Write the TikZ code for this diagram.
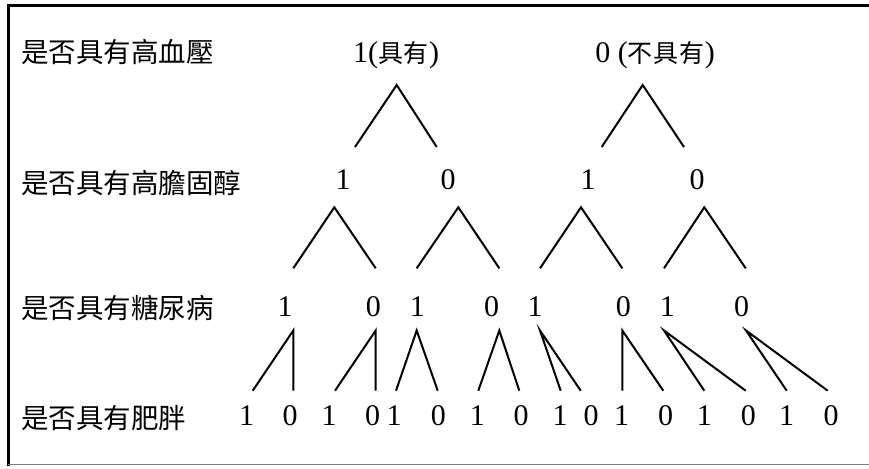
\documentclass[tikz,border=0pt]{standalone}
\usepackage{fontspec}
\setmainfont{Liberation Serif}
\newfontfamily\cjk{Noto Sans CJK TC}
\newfontfamily\cjkval{Noto Sans CJK TC}[LetterSpace=4]

\begin{document}
\begin{tikzpicture}[x=1pt,y=-1pt,
  rowlabel/.style={anchor=west,inner sep=0pt,font=\cjk\fontsize{27.5}{27.5}\selectfont},
  val/.style={anchor=base,inner sep=0pt,font=\fontsize{30}{30}\selectfont},
  branch/.style={line width=2pt,line join=miter},
  frameline/.style={line width=3pt}]
\useasboundingbox (0,0) rectangle (869,468);

% frame: top and left rules, thin grey rule underneath
\draw[frameline] (869,5.5) coordinate (frTR) -- (8,5.5) coordinate (frTL) -- (8,466) coordinate (frBL);
\draw[gray,line width=1.5pt] (8,464.5) coordinate (fbL) -- (869,464.5) coordinate (fbR);

% question labels, one per level
\node[rowlabel] (q1) at (21,52.5) {是否具有高血壓};
\node[rowlabel] (q2) at (21,183)  {是否具有高膽固醇};
\node[rowlabel] (q3) at (21,308)  {是否具有糖尿病};
\node[rowlabel] (q4) at (21,418)  {是否具有肥胖};

% level 1 values
\node[val] (v1-1) at (396,62.5) {1({\cjkval\fontsize{25}{25}\selectfont 具有})};
\node[val] (v1-2) at (655,62.5) {0 ({\cjkval\fontsize{25}{25}\selectfont 不具有})};

% level 2 values
\foreach \x/\t [count=\i] in {343/1,448/0,588/1,697/0}
  \node[val] (v2-\i) at (\x,189) {\t};

% level 3 values
\foreach \x/\t [count=\i] in {285/1,373.3/0,417.3/1,491.7/0,535/1,623.3/0,667.3/1,741.7/0}
  \node[val] (v3-\i) at (\x,316.5) {\t};

% level 4 values
\foreach \x/\t [count=\i] in {246.7/1,290/0,329/1,372.7/0,394/1,438.3/0,477.3/1,521/0,
                               560/1,591/0,621.7/1,665.7/0,704.3/1,748.3/0,786.7/1,831/0}
  \node[val] (v4-\i) at (\x,425) {\t};

% branches below level 1
\foreach \n/\ax/\l/\r in {1/396.7/355/436.7, 2/642.7/601.7/684}{
  \coordinate (a\n) at (\ax,85);
  \coordinate (a\n L) at (\l,147);
  \coordinate (a\n R) at (\r,147);
  \draw[branch] (a\n L) -- (a\n) -- (a\n R);
}

% branches below level 2
\foreach \n/\ax/\l/\r in {1/334.3/293.3/375.7, 2/458.3/416.7/499.3,
                          3/581/540/622.3, 4/704.3/664/745.7}{
  \coordinate (b\n) at (\ax,207.3);
  \coordinate (b\n L) at (\l,268.3);
  \coordinate (b\n R) at (\r,268.3);
  \draw[branch] (b\n L) -- (b\n) -- (b\n R);
}

% branches below level 3
\foreach \n/\ax/\l/\r in {1/293.3/252.7/293.3, 2/375.7/335/375.7,
                          3/416.7/396/437.7, 4/499.3/478.3/519.3,
                          5/540/560.7/580.7, 6/622.3/622.3/663.3,
                          7/664/704.3/745.7, 8/746/786.7/827.7}{
  \coordinate (c\n) at (\ax,330.5);
  \coordinate (c\n L) at (\l,390.7);
  \coordinate (c\n R) at (\r,390.7);
  \draw[branch] (c\n L) -- (c\n) -- (c\n R);
}
\end{tikzpicture}
\end{document}
